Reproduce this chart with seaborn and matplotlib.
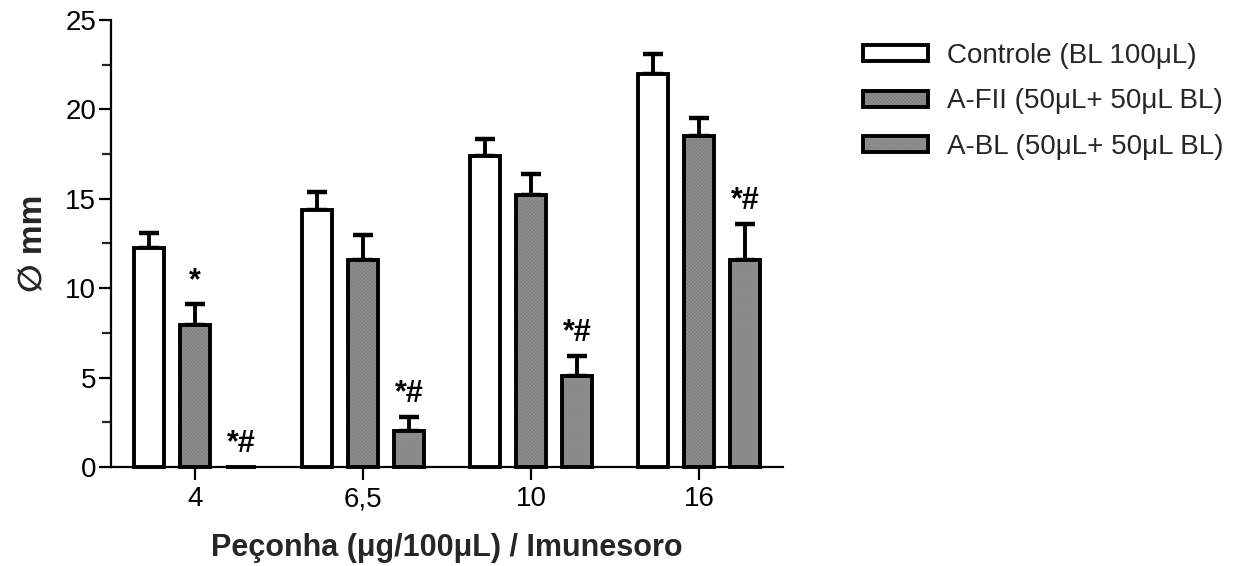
import matplotlib
matplotlib.use("Agg")
import matplotlib.pyplot as plt
import matplotlib.colors as mcolors
import seaborn as sns
import pandas as pd
import numpy as np
from matplotlib.ticker import MultipleLocator

doses = ["4", "6,5", "10", "16"]
groups = ["Controle (BL 100μL)", "A-FII (50μL+ 50μL BL)", "A-BL (50μL+ 50μL BL)"]
controle = [12.25, 14.4, 17.4, 22.0]
afii = [7.95, 11.6, 15.2, 18.5]
abl = [0.0, 2.0, 5.1, 11.6]
controle_err = [0.85, 1.0, 0.95, 1.1]
afii_err = [1.15, 1.4, 1.2, 1.0]
abl_err = [0.0, 0.8, 1.1, 2.0]
afii_marks = ["*", "", "", ""]
abl_marks = ["*#", "*#", "*#", "*#"]

sns.set_theme(style="ticks")
plt.rcParams['font.family'] = ['Liberation Sans', 'DejaVu Sans']
plt.rcParams['hatch.linewidth'] = 0.3

rows = []
for g, vals in zip(groups, [controle, afii, abl]):
    for d, v in zip(doses, vals):
        rows.append({"dose": d, "group": g, "value": v})
df = pd.DataFrame(rows)

fig = plt.figure(figsize=(12.43, 5.66), dpi=100)
ax = fig.add_axes([0.0893, 0.1749, 0.5406, 0.7898])

sns.barplot(data=df, x="dose", y="value", hue="group", order=doses, hue_order=groups,
            palette=["white", "#d2d2d2", "#d4d4d4"], errorbar=None, width=0.82, gap=0.345,
            edgecolor="black", linewidth=2.8, legend=False, ax=ax, zorder=3)

hatches = [None, "x" * 24, "+" * 24]
hatch_cols = [None, "#7a7a7a", "#8a8a8a"]
errs = [controle_err, afii_err, abl_err]
marks = [["", "", "", ""], afii_marks, abl_marks]
for cont, h, hc, e, m in zip(ax.containers, hatches, hatch_cols, errs, marks):
    xs, hs = [], []
    for p in cont:
        p.set_clip_on(False)
        if h:
            p.set_hatch(h)
            p._hatch_color = mcolors.to_rgba(hc)
        xs.append(p.get_x() + p.get_width() / 2)
        hs.append(p.get_height())
    xs = np.array(xs); hs = np.array(hs); e = np.array(e)
    nz = e > 0
    ax.errorbar(xs[nz], hs[nz], yerr=[np.zeros(nz.sum()), e[nz]], fmt="none",
                ecolor="black", elinewidth=2.8, capsize=7, capthick=3.2, zorder=2)
    for x, hh, ee, mm in zip(xs, hs, e, m):
        if mm:
            ax.text(x, hh + ee + 0.45, mm, ha="center", va="bottom",
                    fontsize=22, fontweight="bold", color="black")

ax.set_xlim(-0.5, 3.5)
ax.set_ylim(0, 25)
ax.yaxis.set_major_locator(MultipleLocator(5))
ax.yaxis.set_minor_locator(MultipleLocator(2.5))
sns.despine(ax=ax)
for s in ["left", "bottom"]:
    ax.spines[s].set_linewidth(1.6)
    ax.spines[s].set_color("black")
ax.tick_params(axis="y", which="major", length=8.6, width=1.6, labelsize=20, pad=2, colors="black")
ax.tick_params(axis="y", which="minor", length=6.5, width=1.6)
ax.tick_params(axis="x", length=9, width=1.6, labelsize=20, pad=5, colors="black")

ax.set_xlabel("Peçonha (μg/100μL) / Imunesoro", fontsize=22, fontweight="bold", labelpad=15)
ax.set_ylabel("∅ mm", fontsize=24, fontweight="bold", labelpad=12)

leg = fig.legend(ax.containers, groups, loc="upper left",
                 bbox_to_anchor=(863 / 1243, 1 - 43 / 566), frameon=False,
                 fontsize=20, handlelength=2.34, handleheight=0.5, handletextpad=0.68,
                 labelspacing=0.7, borderpad=0, borderaxespad=0)

fig.savefig("out.png", dpi=100)
